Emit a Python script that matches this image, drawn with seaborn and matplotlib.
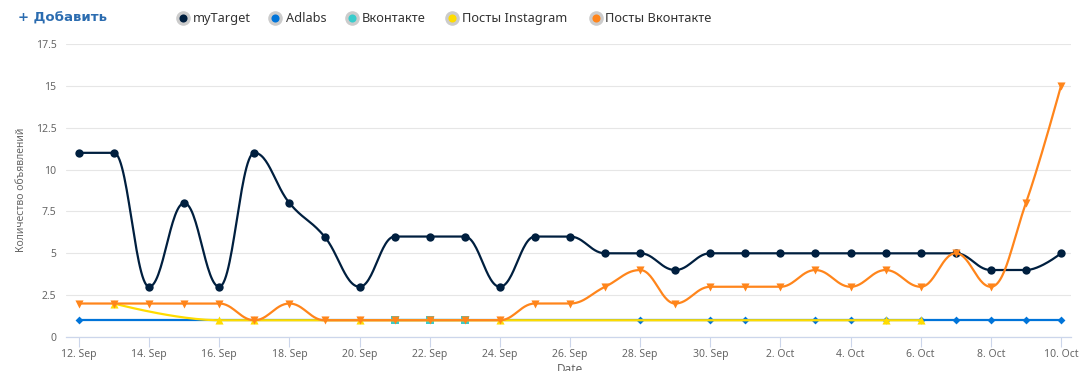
import numpy as np
import matplotlib
matplotlib.use("Agg")
import matplotlib.pyplot as plt
import seaborn as sns
import pandas as pd

# ---------------- data ----------------
dates = ["12 Sep", "13 Sep", "14 Sep", "15 Sep", "16 Sep", "17 Sep", "18 Sep", "19 Sep",
         "20 Sep", "21 Sep", "22 Sep", "23 Sep", "24 Sep", "25 Sep", "26 Sep", "27 Sep",
         "28 Sep", "29 Sep", "30 Sep", "1 Oct", "2 Oct", "3 Oct", "4 Oct", "5 Oct",
         "6 Oct", "7 Oct", "8 Oct", "9 Oct", "10 Oct"]
tick_labels = ["12. Sep", "14. Sep", "16. Sep", "18. Sep", "20. Sep", "22. Sep", "24. Sep",
               "26. Sep", "28. Sep", "30. Sep", "2. Oct", "4. Oct", "6. Oct", "8. Oct", "10. Oct"]

mytarget = [11, 11, 3, 8, 3, 11, 8, 6, 3, 6, 6, 6, 3, 6, 6, 5, 5, 4, 5, 5, 5, 5, 5, 5, 5, 5, 4, 4, 5]
adlabs_dates = ["12 Sep", "28 Sep", "30 Sep", "1 Oct", "3 Oct", "4 Oct", "5 Oct", "6 Oct",
                "7 Oct", "8 Oct", "9 Oct", "10 Oct"]
adlabs_values = [1, 1, 1, 1, 1, 1, 1, 1, 1, 1, 1, 1]
vk_dates = ["21 Sep", "22 Sep", "23 Sep"]
vk_values = [1, 1, 1]
insta_dates = ["13 Sep", "16 Sep", "17 Sep", "20 Sep", "24 Sep", "5 Oct", "6 Oct"]
insta_values = [2, 1, 1, 1, 1, 1, 1]
posts_vk = [2, 2, 2, 2, 2, 1, 2, 1, 1, 1, 1, 1, 1, 2, 2, 3, 4, 2, 3, 3, 3, 4, 3, 4, 3, 5, 3, 8, 15]

series_names = ["myTarget", "Adlabs", "Вконтакте", "Посты Instagram", "Посты Вконтакте"]
colors = ["#001f3f", "#0074D9", "#39CCCC", "#FFDC00", "#FF851B"]
markers = ["o", "D", "s", "^", "v"]
msizes = [36, 16, 26, 34, 34]

idx = {d: i for i, d in enumerate(dates)}


def spline_path(xs, ys, smoothing=1.5, n=30):
    """Highcharts-style spline: cubic Bezier through points."""
    xs = np.asarray(xs, float)
    ys = np.asarray(ys, float)
    m = len(xs)
    if m < 2:
        return xs, ys
    denom = smoothing + 1
    lcx = xs.copy(); lcy = ys.copy(); rcx = xs.copy(); rcy = ys.copy()
    for i in range(1, m - 1):
        px, py = xs[i], ys[i]
        lx, ly = xs[i - 1], ys[i - 1]
        nx, ny = xs[i + 1], ys[i + 1]
        lX = (smoothing * px + lx) / denom
        lY = (smoothing * py + ly) / denom
        rX = (smoothing * px + nx) / denom
        rY = (smoothing * py + ny) / denom
        corr = 0.0
        if rX != lX:
            corr = ((rY - lY) * (rX - px)) / (rX - lX) + py - rY
        lY += corr; rY += corr
        if lY > ly and lY > py:
            lY = max(ly, py); rY = 2 * py - lY
        elif lY < ly and lY < py:
            lY = min(ly, py); rY = 2 * py - lY
        if rY > ny and rY > py:
            rY = max(ny, py); lY = 2 * py - rY
        elif rY < ny and rY < py:
            rY = min(ny, py); lY = 2 * py - rY
        lcx[i], lcy[i], rcx[i], rcy[i] = lX, lY, rX, rY
    t = np.linspace(0, 1, n)[:, None]
    outx, outy = [xs[0]], [ys[0]]
    for i in range(1, m):
        P0 = np.array([xs[i - 1], ys[i - 1]])
        P1 = np.array([rcx[i - 1], rcy[i - 1]])
        P2 = np.array([lcx[i], lcy[i]])
        P3 = np.array([xs[i], ys[i]])
        B = ((1 - t) ** 3) * P0 + 3 * ((1 - t) ** 2) * t * P1 + 3 * (1 - t) * t ** 2 * P2 + t ** 3 * P3
        outx.extend(B[1:, 0]); outy.extend(B[1:, 1])
    return np.array(outx), np.array(outy)


sns.set_theme(style="white")
plt.rcParams["font.family"] = ["Noto Sans", "DejaVu Sans"]

W, H = 1085, 371
fig = plt.figure(figsize=(W / 100, H / 100), dpi=100)
L, R, T, B = 66, 1071, 44, 337
ax = fig.add_axes([L / W, 1 - B / H, (R - L) / W, (B - T) / H])

all_series = [
    ([idx[d] for d in dates], mytarget),
    ([idx[d] for d in adlabs_dates], adlabs_values),
    ([idx[d] for d in vk_dates], vk_values),
    ([idx[d] for d in insta_dates], insta_values),
    ([idx[d] for d in dates], posts_vk),
]

for k, ((xs, ys), name, c, mk, ms) in enumerate(zip(all_series, series_names, colors, markers, msizes)):
    sx, sy = spline_path(xs, ys)
    ax.plot(sx, sy, color=c, lw=1.6, zorder=3 + 2 * k, solid_capstyle="round")
    df = pd.DataFrame({"x": xs, "y": ys})
    sns.scatterplot(data=df, x="x", y="y", ax=ax, color=c, marker=mk, s=ms,
                    linewidth=0, zorder=4 + 2 * k, legend=False, clip_on=False)

ax.set_xlim(-13 / 35.07, 28 + 10 / 35.07)
ax.set_ylim(0, 17.5)
ax.set_yticks(np.arange(0, 17.6, 2.5))
ax.set_yticklabels(["0", "2.5", "5", "7.5", "10", "12.5", "15", "17.5"])
ax.set_xticks(list(range(0, 29, 2)))
ax.set_xticklabels(tick_labels)
ax.grid(axis="y", color="#e6e6e6", lw=0.8, zorder=0)
ax.grid(axis="x", visible=False)
for s in ["top", "right", "left"]:
    ax.spines[s].set_visible(False)
ax.spines["bottom"].set_color("#ccd6eb")
ax.spines["bottom"].set_linewidth(0.9)
ax.spines["bottom"].set_zorder(2)
ax.tick_params(axis="x", length=7, width=0.8, color="#ccd6eb", pad=1.5,
               labelsize=7.5, labelcolor="#666666", bottom=True, direction="out")
ax.tick_params(axis="y", length=0, pad=7, labelsize=7.5, labelcolor="#666666")
ax.set_xlabel("")
ax.set_ylabel("")

fig.text(22 / W, 1 - 190 / H, "Количество объявлений", rotation=90, ha="center", va="center",
         fontsize=7.5, color="#666666")
fig.text(570 / W, 1 - 363 / H, "Date", ha="center", va="top", fontsize=8.5, color="#666666")

# header / legend
fig.text(18 / W, 1 - 18 / H, "+ Добавить", ha="left", va="center", fontsize=9.5,
         fontweight="bold", color="#2b6cb0", family=["DejaVu Sans"])
ov = fig.add_axes([0, 0, 1, 1], facecolor="none")
ov.set_xlim(0, W); ov.set_ylim(H, 0); ov.axis("off")
leg_circ = [183, 275, 352, 452, 596]
leg_text = [193, 286, 362, 462, 605]
for cx, tx, name, c in zip(leg_circ, leg_text, series_names, colors):
    ov.scatter([cx], [18], s=110, color="#cccccc", linewidth=0, zorder=1)
    ov.scatter([cx], [18], s=34, color=c, linewidth=0, zorder=2)
    ov.text(tx, 18.5, name, ha="left", va="center", fontsize=9.2, color="#333333")

fig.savefig("out.png", dpi=100)
